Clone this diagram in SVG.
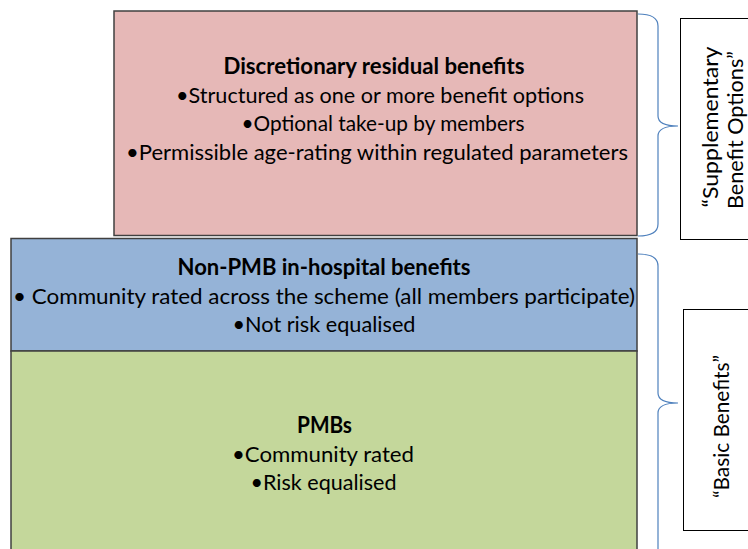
<svg xmlns="http://www.w3.org/2000/svg" width="748" height="549" viewBox="0 0 748 549">
<style>
.box{stroke:#404040;stroke-width:1.5}
.lbl{fill:#fff;stroke:#000;stroke-width:1}
.t{font-family:Lato,"Liberation Sans",sans-serif;font-size:22px;fill:#000;text-anchor:middle}
.b{font-weight:bold}
.br{fill:none;stroke:#4F81BD;stroke-width:1.2}
</style>
<rect width="748" height="549" fill="#fff"/>
<g id="discretionary">
<rect class="box" x="114" y="11" width="523" height="224.5" fill="#E6B8B7"/>
<text class="t b" x="374" y="74" textLength="301" lengthAdjust="spacingAndGlyphs">Discretionary residual benefits</text>
<text class="t" x="380" y="102.5" textLength="408" lengthAdjust="spacingAndGlyphs">•Structured as one or more benefit options</text>
<text class="t" x="383" y="131" textLength="283" lengthAdjust="spacingAndGlyphs">•Optional take-up by members</text>
<text class="t" x="377" y="160" textLength="502" lengthAdjust="spacingAndGlyphs">•Permissible age-rating within regulated parameters</text>
</g>
<g id="nonpmb">
<rect class="box" x="11" y="238.5" width="626" height="112.5" fill="#95B3D7"/>
<text class="t b" x="324" y="275" textLength="293" lengthAdjust="spacingAndGlyphs">Non-PMB in-hospital  benefits</text>
<text class="t" x="324" y="304" textLength="622" lengthAdjust="spacingAndGlyphs">• Community rated across the scheme (all members participate)</text>
<text class="t" x="324" y="332" textLength="183" lengthAdjust="spacingAndGlyphs">•Not risk equalised</text>
</g>
<g id="pmbs">
<rect class="box" x="11" y="351" width="626" height="210" fill="#C4D79B"/>
<text class="t b" x="324.5" y="433" textLength="55" lengthAdjust="spacingAndGlyphs">PMBs</text>
<text class="t" x="323" y="461.5" textLength="182" lengthAdjust="spacingAndGlyphs">•Community rated</text>
<text class="t" x="323.5" y="489.5" textLength="146" lengthAdjust="spacingAndGlyphs">•Risk equalised</text>
</g>
<g id="connectors">
<path class="br" d="M638,14 Q658,14 658,26 L658,116 Q658,126 678,126 Q658,126 658,136 L658,224 Q658,236 638,236"/>
<path class="br" d="M638,254 Q658,254 658,266 L658,393 Q658,403 678,403 Q658,403 658,413 L658,560"/>
</g>
<g id="supplementary">
<rect class="lbl" x="680.5" y="18.5" width="80" height="221"/>
<text class="t" transform="translate(718,127) rotate(-90)" x="0" y="0" textLength="161" lengthAdjust="spacingAndGlyphs">“Supplementary</text>
<text class="t" transform="translate(743,130) rotate(-90)" x="0" y="0" textLength="158" lengthAdjust="spacingAndGlyphs">Benefit Options”</text>
</g>
<g id="basic">
<rect class="lbl" x="683.5" y="309.5" width="80" height="221"/>
<text class="t" transform="translate(729,426.5) rotate(-90)" x="0" y="0" textLength="143" lengthAdjust="spacingAndGlyphs">“Basic Benefits”</text>
</g>
</svg>
